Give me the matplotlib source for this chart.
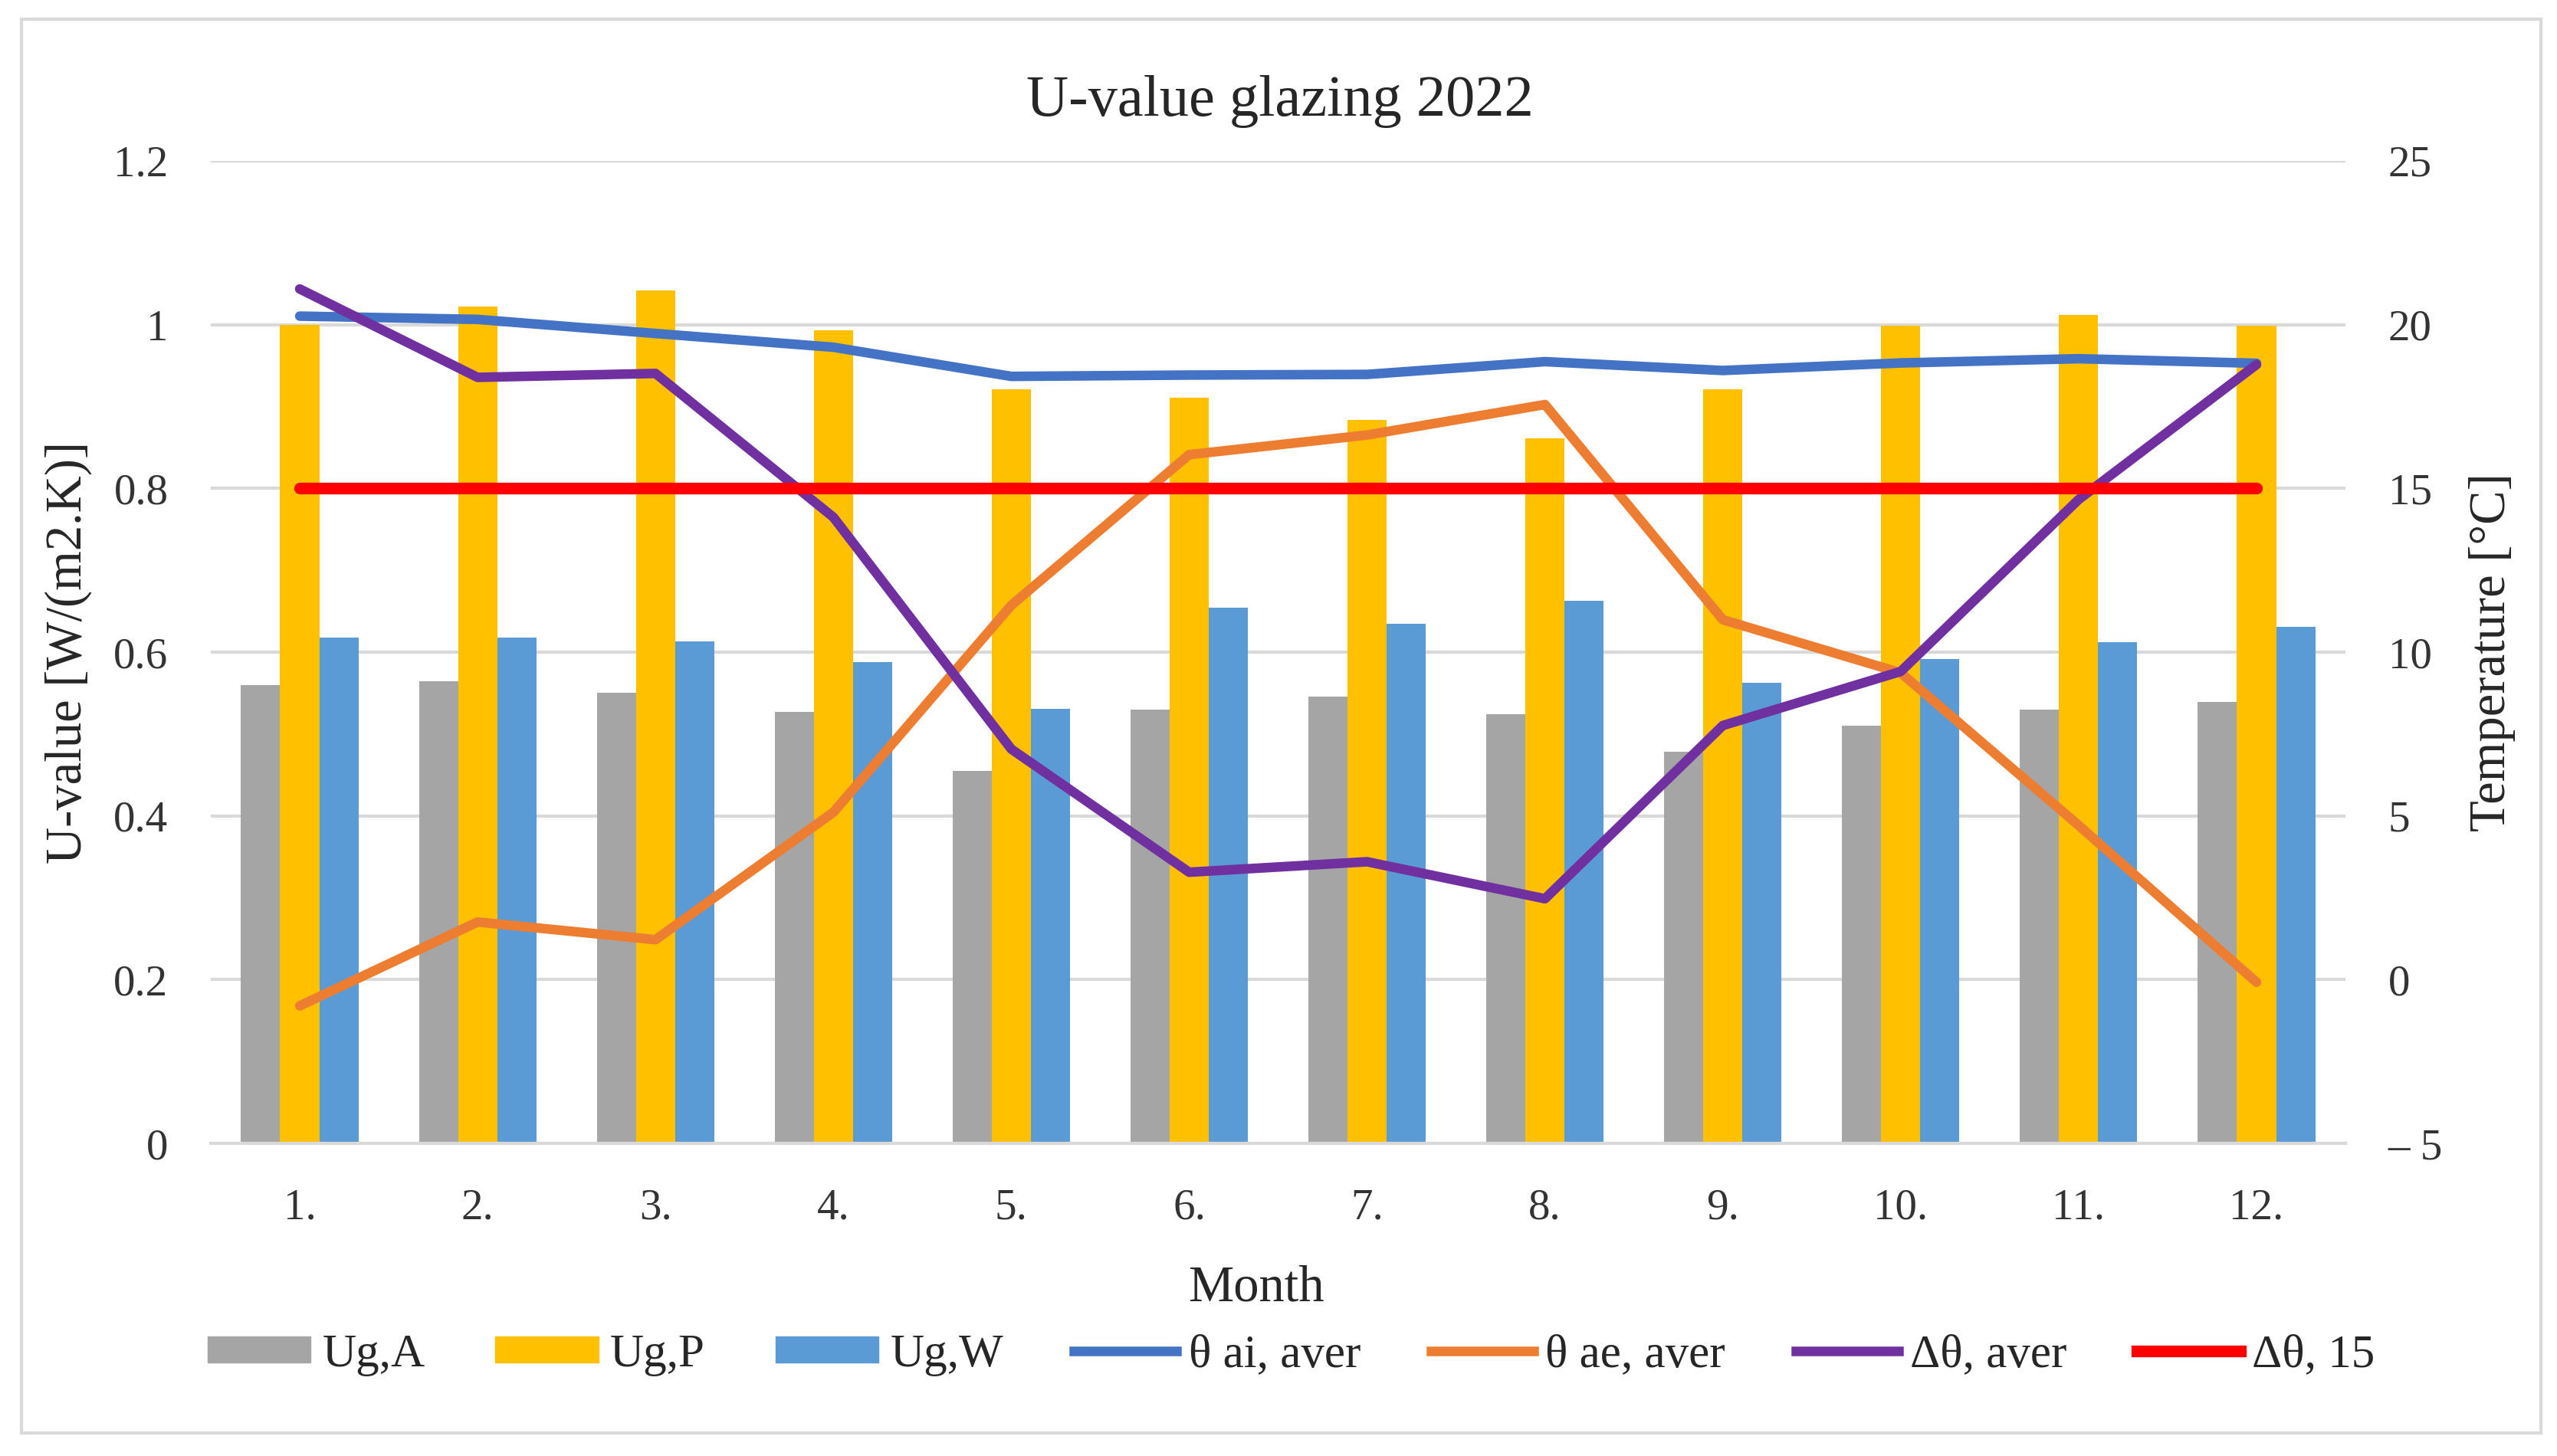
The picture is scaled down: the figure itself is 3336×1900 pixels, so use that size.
import numpy as np
import matplotlib
matplotlib.use("Agg")
import matplotlib.pyplot as plt
from matplotlib.patches import Rectangle, Patch
from matplotlib.lines import Line2D

plt.rcParams["font.family"] = ["Liberation Serif", "DejaVu Serif"]

months = ["1.", "2.", "3.", "4.", "5.", "6.", "7.", "8.", "9.", "10.", "11.", "12."]

# U-values [W/(m2.K)]
ug_a = [0.560, 0.564, 0.550, 0.527, 0.455, 0.530, 0.546, 0.524, 0.478, 0.510, 0.530, 0.539]
ug_p = [1.000, 1.022, 1.042, 0.993, 0.921, 0.911, 0.884, 0.861, 0.921, 0.999, 1.012, 0.999]
ug_w = [0.618, 0.618, 0.613, 0.588, 0.531, 0.654, 0.635, 0.663, 0.563, 0.592, 0.612, 0.631]

# temperatures [°C]
theta_ai = [20.26, 20.16, 19.73, 19.31, 18.42, 18.46, 18.48, 18.87, 18.60, 18.83, 18.96, 18.82]
theta_ae = [-0.80, 1.76, 1.22, 5.11, 11.43, 16.03, 16.63, 17.56, 10.99, 9.37, 4.71, -0.08]
delta_theta = [21.09, 18.39, 18.51, 14.12, 7.04, 3.28, 3.60, 2.47, 7.76, 9.41, 14.66, 18.78]
delta_15 = [15] * 12

c_gray = "#A5A5A5"
c_yellow = "#FFC000"
c_blue = "#5B9BD5"
c_ai = "#4472C4"
c_ae = "#ED7D31"
c_delta = "#7030A0"
c_red = "#FF0000"
txt = "#262626"
grid_c = "#D9D9D9"

fig = plt.figure(figsize=(33.37, 19.0), dpi=100)
fig.patches.append(Rectangle((0.0085, 0.016), 0.985, 0.971, transform=fig.transFigure,
                             fill=False, edgecolor=grid_c, linewidth=3))

ax = fig.add_axes([0.0824, 0.2147, 0.8346, 0.6748])
x = np.arange(len(months))
w = 0.22

ax.bar(x - w, ug_a, w, color=c_gray, zorder=2)
ax.bar(x, ug_p, w, color=c_yellow, zorder=2)
ax.bar(x + w, ug_w, w, color=c_blue, zorder=2)

ax.set_xlim(-0.5, 11.5)
ax.set_ylim(0, 1.2)
ax.set_yticks([0, 0.2, 0.4, 0.6, 0.8, 1.0, 1.2])
ax.set_yticklabels(["0", "0.2", "0.4", "0.6", "0.8", "1", "1.2"])
ax.set_xticks(x)
ax.set_xticklabels(months)
ax.grid(axis="y", color=grid_c, linewidth=3, zorder=0)
ax.set_axisbelow(True)
for s in ["top", "right", "left"]:
    ax.spines[s].set_visible(False)
ax.spines["bottom"].set_color(grid_c)
ax.spines["bottom"].set_linewidth(3)
ax.tick_params(axis="both", length=0, labelsize=41, labelcolor="#333333")
ax.tick_params(axis="y", pad=40)
ax.tick_params(axis="x", pad=42)

fig.text(0.491, 0.1153, "Month", fontsize=48, color=txt, ha="center", va="center")
fig.text(0.0267, 0.552, "U-value [W/(m2.K)]", fontsize=48, color=txt,
         rotation=90, ha="center", va="center")
fig.text(0.9745, 0.552, "Temperature [°C]", fontsize=48, color=txt,
         rotation=90, ha="center", va="center")
fig.text(0.5005, 0.9305, "U-value glazing 2022", fontsize=55, color=txt,
         ha="center", va="center")

ax2 = ax.twinx()
ax2.set_ylim(-5, 25)
ax2.set_yticks([-5, 0, 5, 10, 15, 20, 25])
ax2.set_yticklabels(["\u2013 5", "0", "5", "10", "15", "20", "25"])
for s in ax2.spines.values():
    s.set_visible(False)
ax2.tick_params(axis="y", length=0, labelsize=41, labelcolor="#333333", pad=40)

lw = 9
ax2.plot(x, theta_ai, color=c_ai, linewidth=lw, solid_capstyle="round", zorder=3)
ax2.plot(x, theta_ae, color=c_ae, linewidth=lw, solid_capstyle="round", zorder=3)
ax2.plot(x, delta_theta, color=c_delta, linewidth=lw, solid_capstyle="round", zorder=4)
ax2.plot(x, delta_15, color=c_red, linewidth=11, solid_capstyle="round", zorder=5)

handles = [
    Patch(color=c_gray, label="Ug,A"),
    Patch(color=c_yellow, label="Ug,P"),
    Patch(color=c_blue, label="Ug,W"),
    Line2D([], [], color=c_ai, linewidth=lw, label="\u03b8 ai, aver"),
    Line2D([], [], color=c_ae, linewidth=lw, label="\u03b8 ae, aver"),
    Line2D([], [], color=c_delta, linewidth=lw, label="\u0394\u03b8, aver"),
    Line2D([], [], color=c_red, linewidth=11, label="\u0394\u03b8, 15"),
]
leg = fig.legend(handles=handles, loc="center", bbox_to_anchor=(0.5048, 0.0695), ncol=7,
                 frameon=False, fontsize=44, handlelength=2.2, handleheight=0.5,
                 handletextpad=0.25, columnspacing=1.5)
for t in leg.get_texts():
    t.set_color(txt)

fig.savefig("out.png", dpi=100)
